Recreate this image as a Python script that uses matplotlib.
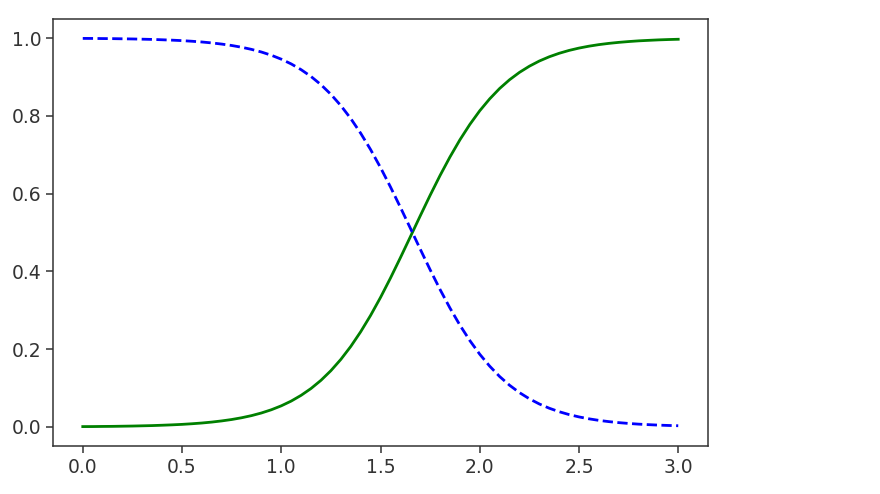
import matplotlib
matplotlib.use("Agg")
import matplotlib.pyplot as plt

petal_width = [0.00, 0.05, 0.10, 0.15, 0.20, 0.25, 0.30, 0.35, 0.40, 0.45,
               0.50, 0.55, 0.60, 0.65, 0.70, 0.75, 0.80, 0.85, 0.90, 0.95,
               1.00, 1.05, 1.10, 1.15, 1.20, 1.25, 1.30, 1.35, 1.40, 1.45,
               1.50, 1.55, 1.60, 1.65, 1.70, 1.75, 1.80, 1.85, 1.90, 1.95,
               2.00, 2.05, 2.10, 2.15, 2.20, 2.25, 2.30, 2.35, 2.40, 2.45,
               2.50, 2.55, 2.60, 2.65, 2.70, 2.75, 2.80, 2.85, 2.90, 2.95, 3.00]
p_virginica = [0.0008, 0.0009, 0.0012, 0.0014, 0.0018, 0.0022, 0.0028, 0.0034, 0.0043, 0.0053,
               0.0065, 0.0081, 0.0100, 0.0124, 0.0154, 0.0190, 0.0235, 0.0290, 0.0358, 0.0441,
               0.0542, 0.0664, 0.0812, 0.0988, 0.1198, 0.1446, 0.1735, 0.2068, 0.2446, 0.2867,
               0.3329, 0.3826, 0.4349, 0.4886, 0.5426, 0.5957, 0.6466, 0.6943, 0.7383, 0.7779,
               0.8131, 0.8437, 0.8703, 0.8928, 0.9118, 0.9277, 0.9410, 0.9519, 0.9609, 0.9683,
               0.9743, 0.9792, 0.9832, 0.9864, 0.9890, 0.9911, 0.9929, 0.9942, 0.9954, 0.9963, 0.9970]
p_not_virginica = [0.9992, 0.9991, 0.9988, 0.9986, 0.9982, 0.9978, 0.9972, 0.9966, 0.9957, 0.9947,
                   0.9935, 0.9919, 0.9900, 0.9876, 0.9846, 0.9810, 0.9765, 0.9710, 0.9642, 0.9559,
                   0.9458, 0.9336, 0.9188, 0.9012, 0.8802, 0.8554, 0.8265, 0.7932, 0.7554, 0.7133,
                   0.6671, 0.6174, 0.5651, 0.5114, 0.4574, 0.4043, 0.3534, 0.3057, 0.2617, 0.2221,
                   0.1869, 0.1563, 0.1297, 0.1072, 0.0882, 0.0723, 0.0590, 0.0481, 0.0391, 0.0317,
                   0.0257, 0.0208, 0.0168, 0.0136, 0.0110, 0.0089, 0.0071, 0.0058, 0.0046, 0.0037, 0.0030]

fig = plt.figure(figsize=(8.8, 4.94), dpi=100)
ax = fig.add_axes([53/880, 1 - 446/494, 655/880, 427/494])
ax.plot(petal_width, p_virginica, "g-", linewidth=2.0)
ax.plot(petal_width, p_not_virginica, "b--", linewidth=2.0)

ax.tick_params(labelsize=13.5, length=4.8, width=1.1, colors="#333333", labelcolor="#333333")
for s in ax.spines.values():
    s.set_linewidth(1.1)
    s.set_color("#333333")

fig.savefig("out.png", dpi=100)
